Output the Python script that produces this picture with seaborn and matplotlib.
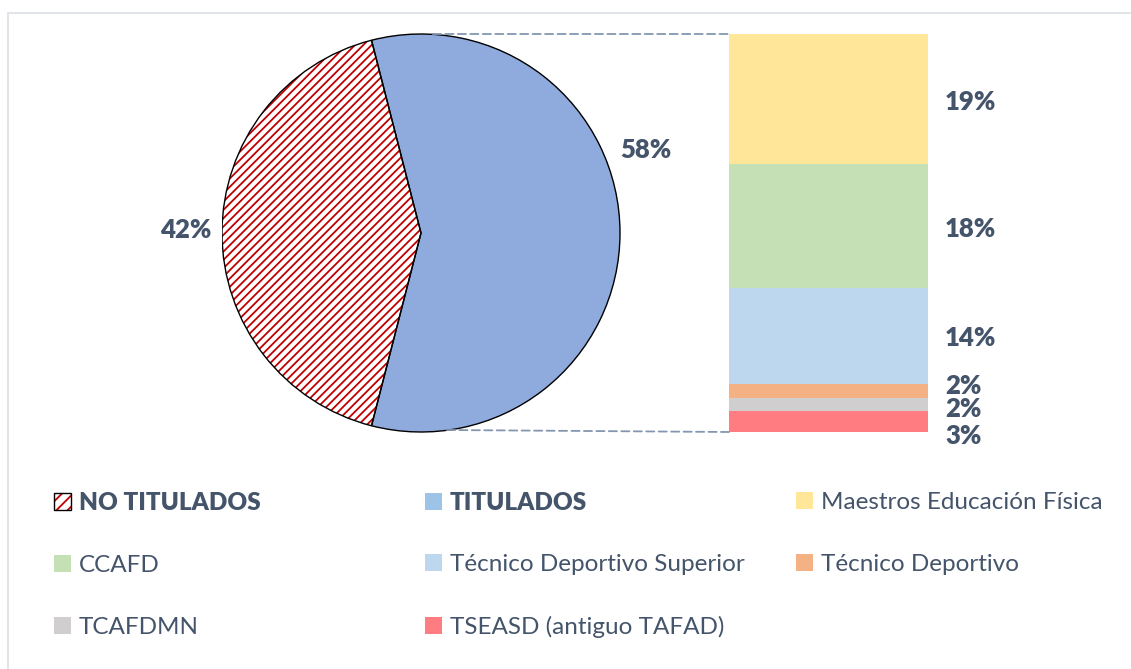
import numpy as np
import pandas as pd
import matplotlib
matplotlib.use("Agg")
import matplotlib.pyplot as plt
import seaborn as sns
from matplotlib.patches import Wedge, Patch, Rectangle, ConnectionPatch

# --- data -----------------------------------------------------------------
pie_labels = ["NO TITULADOS", "TITULADOS"]
pie_values = [42, 58]
pie_colors = ["white", "#8FAADC"]

bar_labels = ["Maestros Educación Física", "CCAFD", "Técnico Deportivo Superior",
              "Técnico Deportivo", "TCAFDMN", "TSEASD (antiguo TAFAD)"]
bar_values = [19, 18, 14, 2, 2, 3]          # top -> bottom
bar_colors = ["#FFE699", "#C5E0B4", "#BDD7EE", "#F4B183", "#D0CECE", "#FF7C80"]

TXT = "#44546A"
HATCH_RED = "#C00000"

sns.set_theme(style="white")
plt.rcParams["font.family"] = ["Lato", "DejaVu Sans"]
plt.rcParams["hatch.linewidth"] = 1.3

W, H = 1131, 669
fig = plt.figure(figsize=(W / 100, H / 100), dpi=100)
fig.patch.set_facecolor("white")

# light chart-area border (top + left only visible)
fig.patches.append(Rectangle((7.5 / W, -0.1), 2, 1.1 - 13.5 / H, transform=fig.transFigure,
                             fill=False, ec="#DEE2E7", lw=1.3))

# --- pie ------------------------------------------------------------------
cx, cy, r = 421, 233, 199
ax_pie = fig.add_axes([(cx - r) / W, (H - cy - r) / H, 2 * r / W, 2 * r / H])
start = 180 - pie_values[0] / sum(pie_values) * 360 / 2
wedges, _ = ax_pie.pie(pie_values, colors=pie_colors, startangle=start, counterclock=True,
                       wedgeprops=dict(edgecolor="black", linewidth=1.0))
hw = wedges[0]
hw.set_hatch("////")
hw.set_edgecolor(HATCH_RED)
hw.set_linewidth(0)
ax_pie.add_patch(Wedge((0, 0), 1, hw.theta1, hw.theta2, fill=False, ec="black", lw=1.0, zorder=3))
ax_pie.set_xlim(-1, 1)
ax_pie.set_ylim(-1, 1)
ax_pie.set_aspect("equal")
ax_pie.axis("off")

pie_label_pos = [(-1.18, 0.015), (1.13, 0.417)]
for v, (x, y) in zip(pie_values, pie_label_pos):
    ax_pie.text(x, y, f"{v}%", ha="center", va="center", fontsize=18.5,
                fontweight="heavy", color=TXT)

# --- stacked bar ----------------------------------------------------------
bx0, bx1, by0, by1 = 729, 928, 34, 432
ax_bar = fig.add_axes([bx0 / W, (H - by1) / H, (bx1 - bx0) / W, (by1 - by0) / H])
bottoms = np.cumsum([0] + bar_values[::-1][:-1])[::-1]
df = pd.DataFrame({"group": [""] * len(bar_values), "val": bar_values,
                   "bottom": bottoms, "color": bar_colors, "label": bar_labels})
for _, row in df.iterrows():
    sns.barplot(x=[row["group"]], y=[row["val"]], bottom=row["bottom"], color=row["color"],
                width=1, saturation=1, ax=ax_bar, edgecolor="none", linewidth=0)
ax_bar.set_xlim(-0.5, 0.5)
ax_bar.set_ylim(0, sum(bar_values))
ax_bar.axis("off")

label_dy = [-1.8, -2.2, -1.4, 3.6, -3.0, -10.4]   # points, label nudges
for (_, row), dy in zip(df.iterrows(), label_dy):
    ax_bar.annotate(f"{row['val']}%", xy=(0.5, row["bottom"] + row["val"] / 2), xytext=(12.2, dy),
                    textcoords="offset points", ha="left", va="center",
                    fontsize=18.5, fontweight="heavy", color=TXT)

# --- connectors -----------------------------------------------------------
for pa, pb in [((0.06, 1.0), (0, 1)), ((0.13, -0.99), (0, 0))]:
    con = ConnectionPatch(xyA=pa, coordsA=ax_pie.transData, xyB=pb, coordsB=ax_bar.transAxes,
                          color="#8497B0", lw=1.3, linestyle=(0, (4.5, 2.4)))
    fig.add_artist(con)

# --- legend (3 columns, row-major like the original) ----------------------
handles = {
    "NO TITULADOS": (Patch(facecolor="white", edgecolor=HATCH_RED, hatch="///", lw=0),
                     Patch(fill=False, edgecolor="black", lw=1.0)),
    "TITULADOS": Patch(facecolor="#9DC3E6", edgecolor="none"),
}
for lab, col in zip(bar_labels, bar_colors):
    handles[lab] = Patch(facecolor=col, edgecolor="none")

columns = [["NO TITULADOS", "CCAFD", "TCAFDMN"],
           ["TITULADOS", "Técnico Deportivo Superior", "TSEASD (antiguo TAFAD)"],
           ["Maestros Educación Física", "Técnico Deportivo"]]
col_x = [54, 425, 796]
row_y = [502, 565, 628]
fs = 17.5
for labs, x in zip(columns, col_x):
    yc = np.mean(row_y[:len(labs)])
    leg = fig.legend([handles[l] for l in labs], labs, loc="center left",
                     bbox_to_anchor=(x / W, 1 - yc / H), frameon=False, fontsize=fs,
                     handlelength=0.70, handleheight=0.70, handletextpad=0.33,
                     labelspacing=1.67, borderpad=0, borderaxespad=0, labelcolor=TXT)
    for t in leg.get_texts():
        if t.get_text() in pie_labels:
            t.set_fontweight("heavy")

fig.savefig("out.png", dpi=100, facecolor="white")
